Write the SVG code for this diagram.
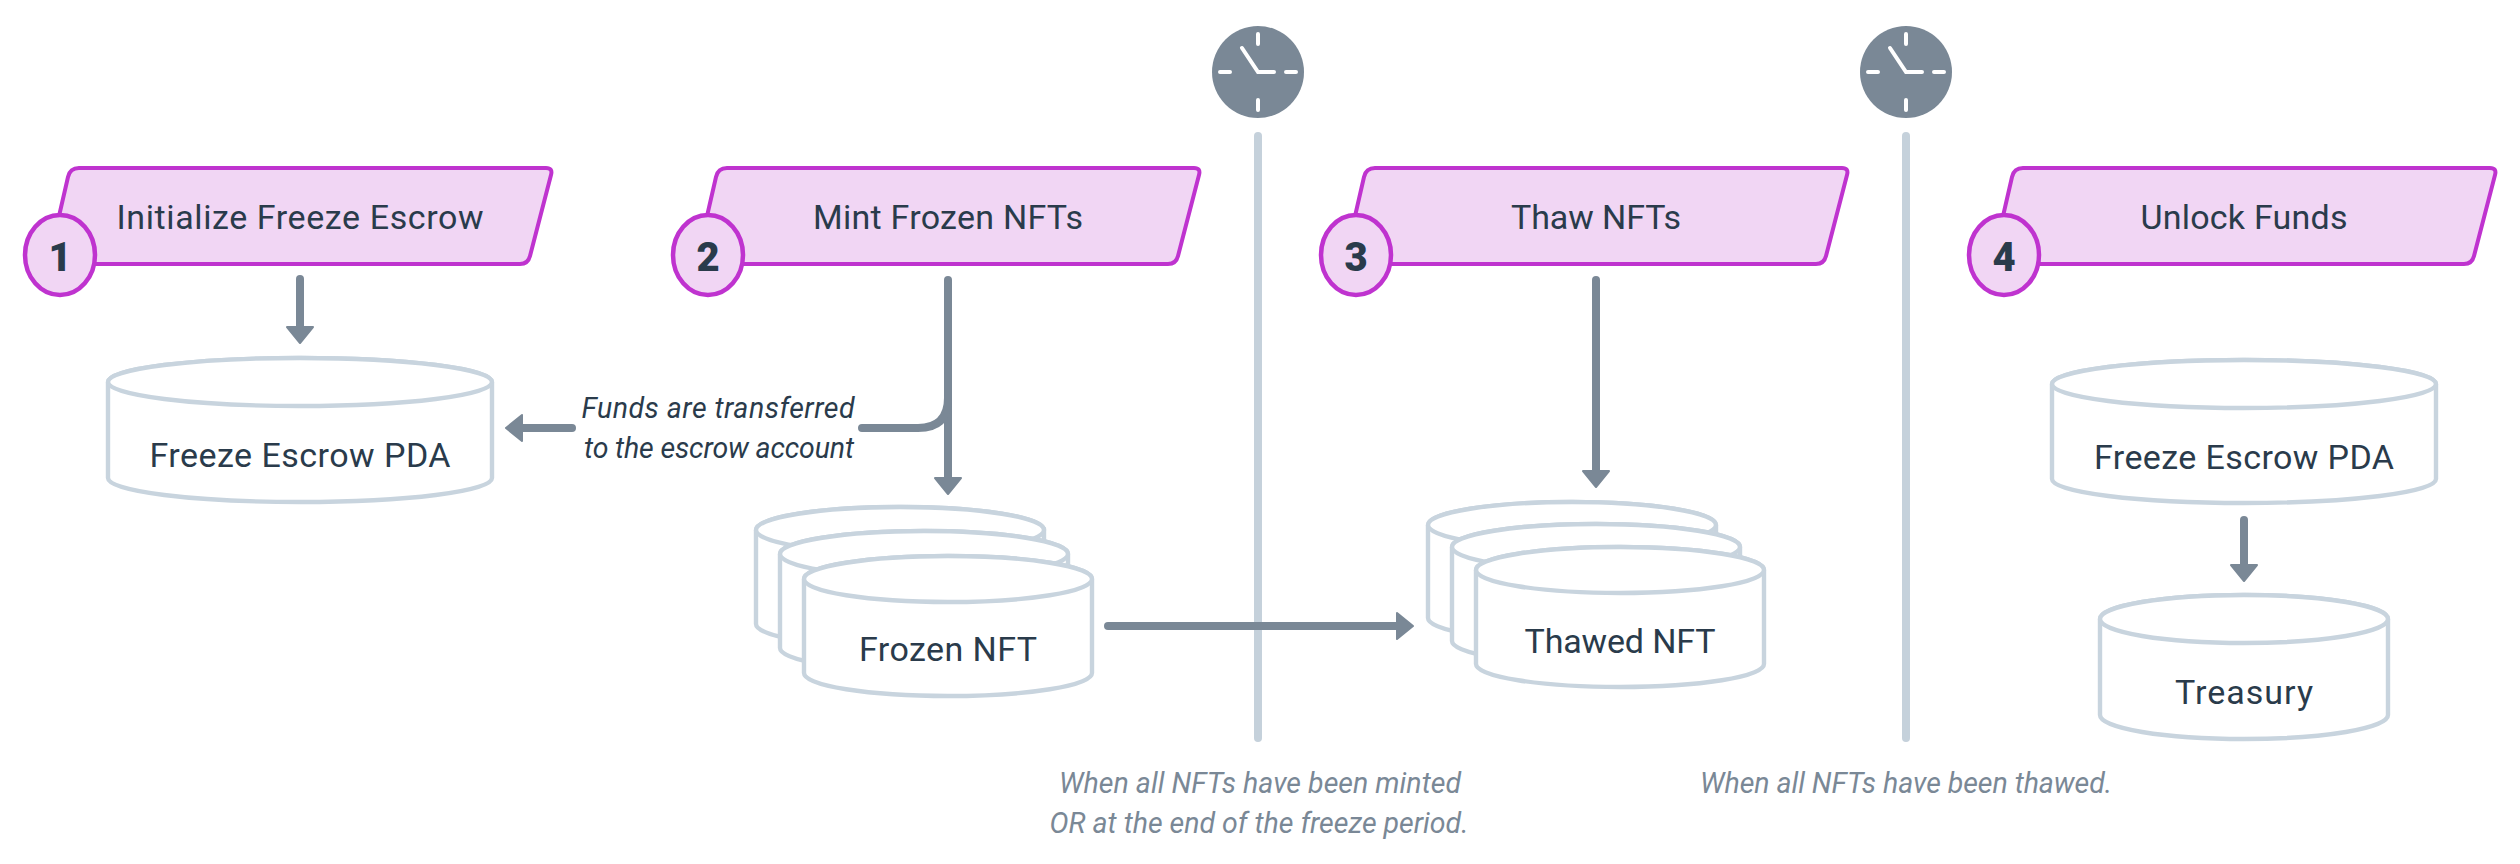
<svg xmlns="http://www.w3.org/2000/svg" width="2520" height="864" viewBox="0 0 2520 864">
<style>
text{font-family:Roboto,"Liberation Sans",sans-serif;fill:#2a3b4b;font-size:34px;text-anchor:middle}
.num{font-size:40px;font-weight:900}
.note{font-size:28.5px;font-style:italic;fill:#2a3b4b}
.cond{font-size:28.5px;font-style:italic;fill:#7a8896}
.para{fill:#f1d6f4;stroke:#bf33cf;stroke-width:4;stroke-linejoin:round}
.badge{fill:#f1d6f4;stroke:#bf33cf;stroke-width:4.5}
.cyl{fill:#fff;stroke:#c8d4de;stroke-width:4.4;stroke-linejoin:round}
.conn{fill:none;stroke:#7a8896;stroke-width:8;stroke-linecap:round}
.arrow{marker-end:url(#head)}
.rule{stroke:#c5d1db;stroke-width:8;stroke-linecap:round;fill:none}
.tick{stroke:#fff;stroke-width:4;stroke-linecap:round;fill:none}
.face{fill:#7a8896}
</style>
<defs>
<marker id="head" markerUnits="userSpaceOnUse" markerWidth="22" markerHeight="32" viewBox="0 -16 22 32" refX="0" refY="0" orient="auto">
<path d="M1 -13L17 0L1 13Z" fill="#7a8896" stroke="#7a8896" stroke-width="2" stroke-linejoin="round"/>
</marker>
<path id="p" d="M48 264L68 177Q70 168 79 168L546 168Q553 168 551 175L530 256Q528 264 520 264Z"/>
<g id="clockface">
<circle class="face" cx="0" cy="0" r="46"/>
<path class="tick" d="M0 -38V-28M0 28V38M-38 0H-28M28 0H38"/>
<path class="tick" d="M-16 -24L0 0H16"/>
</g>
</defs>

<g id="rule-1"><path class="rule" d="M1258 136V738"/></g>
<g id="rule-2"><path class="rule" d="M1906 136V738"/></g>
<g id="clock-1"><use href="#clockface" x="1258" y="72"/></g>
<g id="clock-2"><use href="#clockface" x="1906" y="72"/></g>

<g id="step-1">
<use href="#p" class="para"/>
<text x="300" y="229" textLength="367">Initialize Freeze Escrow</text>
<ellipse class="badge" cx="60" cy="255" rx="35" ry="40"/>
<text class="num" x="60" y="271">1</text>
</g>
<g id="step-2">
<use href="#p" class="para" x="648"/>
<text x="948" y="229" textLength="270">Mint Frozen NFTs</text>
<ellipse class="badge" cx="708" cy="255" rx="35" ry="40"/>
<text class="num" x="708" y="271">2</text>
</g>
<g id="step-3">
<use href="#p" class="para" x="1296"/>
<text x="1596" y="229" textLength="170">Thaw NFTs</text>
<ellipse class="badge" cx="1356" cy="255" rx="35" ry="40"/>
<text class="num" x="1356" y="271">3</text>
</g>
<g id="step-4">
<use href="#p" class="para" x="1944"/>
<text x="2244" y="229" textLength="207">Unlock Funds</text>
<ellipse class="badge" cx="2004" cy="255" rx="35" ry="40"/>
<text class="num" x="2004" y="271">4</text>
</g>

<g id="escrow-1">
<path class="cyl" d="M108 382V478A192 24 0 0 0 492 478V382A192 24 0 0 0 108 382Z"/>
<ellipse class="cyl" cx="300" cy="382" rx="192" ry="24"/>
<text x="300" y="467" textLength="301">Freeze Escrow PDA</text>
</g>
<g id="frozen">
<path class="cyl" d="M756 530V624A144 23 0 0 0 1044 624V530A144 23 0 0 0 756 530Z"/>
<ellipse class="cyl" cx="900" cy="530" rx="144" ry="23"/>
<path class="cyl" d="M780 554V648A144 23 0 0 0 1068 648V554A144 23 0 0 0 780 554Z"/>
<ellipse class="cyl" cx="924" cy="554" rx="144" ry="23"/>
<path class="cyl" d="M804 579V673A144 23 0 0 0 1092 673V579A144 23 0 0 0 804 579Z"/>
<ellipse class="cyl" cx="948" cy="579" rx="144" ry="23"/>
<text x="948" y="661" textLength="178">Frozen NFT</text>
</g>
<g id="thawed">
<path class="cyl" d="M1428 525V618A144 23 0 0 0 1716 618V525A144 23 0 0 0 1428 525Z"/>
<ellipse class="cyl" cx="1572" cy="525" rx="144" ry="23"/>
<path class="cyl" d="M1452 547V641A144 23 0 0 0 1740 641V547A144 23 0 0 0 1452 547Z"/>
<ellipse class="cyl" cx="1596" cy="547" rx="144" ry="23"/>
<path class="cyl" d="M1476 570V664A144 23 0 0 0 1764 664V570A144 23 0 0 0 1476 570Z"/>
<ellipse class="cyl" cx="1620" cy="570" rx="144" ry="23"/>
<text x="1620" y="653" textLength="191">Thawed NFT</text>
</g>
<g id="escrow-2">
<path class="cyl" d="M2052 384V479A192 24 0 0 0 2436 479V384A192 24 0 0 0 2052 384Z"/>
<ellipse class="cyl" cx="2244" cy="384" rx="192" ry="24"/>
<text x="2244" y="469" textLength="300">Freeze Escrow PDA</text>
</g>
<g id="treasury">
<path class="cyl" d="M2100 619V715A144 24 0 0 0 2388 715V619A144 24 0 0 0 2100 619Z"/>
<ellipse class="cyl" cx="2244" cy="619" rx="144" ry="24"/>
<text x="2244" y="704" textLength="138">Treasury</text>
</g>

<g id="connectors">
<path class="conn arrow" d="M300 279V326"/>
<path class="conn arrow" d="M948 280V477"/>
<path class="conn" d="M862 428H918Q948 428 948 398"/>
<path class="conn arrow" d="M572 428H523"/>
<path class="conn arrow" d="M1108 626H1396"/>
<path class="conn arrow" d="M1596 280V470"/>
<path class="conn arrow" d="M2244 520V564"/>
</g>

<g id="labels">
<text class="note" x="718" y="418" textLength="273">Funds are transferred</text>
<text class="note" x="719" y="458" textLength="270">to the escrow account</text>
<text class="cond" x="1260" y="793" textLength="402">When all NFTs have been minted</text>
<text class="cond" x="1259" y="833" textLength="419">OR at the end of the freeze period.</text>
<text class="cond" x="1906" y="793" textLength="412">When all NFTs have been thawed.</text>
</g>
</svg>
